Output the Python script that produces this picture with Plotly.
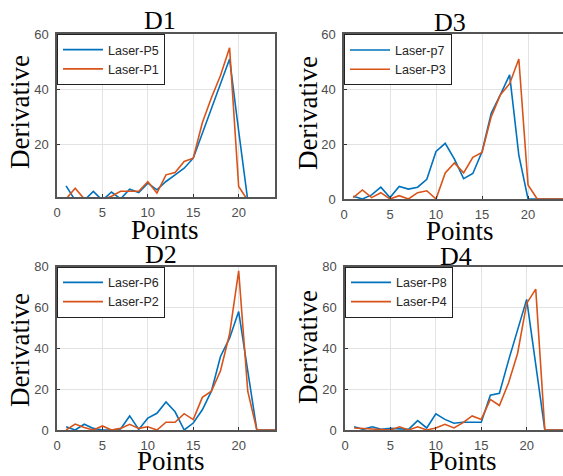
import plotly.graph_objects as go

# ---------------- data ----------------
d1_p5 = [5.2, 0, 0, 3.2, 0, 3, 0.5, 4, 2.8, 6.2, 3.8, 6.8, 9.2, 11.6, 15.2, 24, 33, 42, 51, 25, 0]
d1_p1 = [0.5, 4.4, 0.5, 0.5, 0, 1.5, 3.3, 3.3, 3.3, 6.7, 2.6, 9.2, 10, 14, 15.2, 28, 37, 45, 55, 5, 0]

d3_p7 = [1, 0, 1.5, 4.3, 0.5, 4.6, 3.6, 4.3, 7.2, 17.3, 20.3, 14.5, 7.4, 9.3, 17.2, 31.2, 38, 45.2, 16, 0, 0, 0, 0, 0]
d3_p3 = [0.5, 3.3, 0.5, 2.3, 0, 1.2, 0, 2.3, 3, 0, 9.5, 13.1, 9.5, 15.2, 17, 30, 38, 42, 51, 5.1, 0, 0, 0, 0]

d2_p6 = [1.6, 0, 2.8, 0.8, 0, 0, 0.5, 6.9, 0.3, 5.8, 8.2, 13.7, 8.9, 0, 3.4, 9.9, 19, 36, 45, 58, 29, 0, 0, 0]
d2_p2 = [0, 2.9, 1.2, 0, 2, 0, 0.8, 2.8, 0.8, 1.6, 0, 3.8, 3.8, 8, 5.1, 16, 19, 29, 47, 78, 19, 0, 0, 0]

d4_p8 = [1.6, 0.3, 1.6, 0.3, 0.8, 0.6, 0.3, 4.6, 1, 7.9, 5.2, 3.3, 3.8, 3.8, 3.8, 17, 18, 34, 49, 64, 32, 0, 0, 0]
d4_p4 = [1, 0.8, 0.3, 0.3, 0, 1.6, 0, 1.6, 0, 1, 2.8, 1, 3.6, 6.9, 5.2, 15, 12, 23, 37.5, 62, 69, 0, 0, 0]

panel_titles = ["D1", "D3", "D2", "D4"]
series_names = [("Laser-P5", "Laser-P1"), ("Laser-p7", "Laser-P3"),
                ("Laser-P6", "Laser-P2"), ("Laser-P8", "Laser-P4")]
series_data = [(d1_p5, d1_p1), (d3_p7, d3_p3), (d2_p6, d2_p2), (d4_p8, d4_p4)]
x_ticks = [0, 5, 10, 15, 20]
y_ticks = [[20, 40, 60], [0, 20, 40, 60], [0, 20, 40, 60, 80], [0, 20, 40, 60, 80]]
y_ranges = [[1.2, 60], [0, 60], [0, 80], [0, 80]]
x_ranges = [[0, 24], [0, 23.8], [0, 24], [0, 24]]

# ---------------- layout geometry (pixels) ----------------
W, H = 563, 476
# (left, right, top, bottom) of each plot area
boxes = [(57, 275, 34, 197), (344, 563, 34.3, 199), (57, 275, 266.7, 430), (345, 563, 266.7, 430)]
title_pos = [(160, 21), (450, 22), (161, 254), (456, 256)]
ylab_pos = [(20, 112), (308, 113), (20, 350), (308, 347)]
xlab_pos = [(165, 230), (460, 231), (171, 461), (463, 461)]

BLUE = "#0072BD"
ORANGE = "#D95319"

fig = go.Figure()
layout = dict(
    template="none",
    width=W, height=H, margin=dict(l=0, r=0, t=0, b=0, pad=0, autoexpand=False),
    paper_bgcolor="white", plot_bgcolor="white", showlegend=True,
)
annotations = []

def px(x):
    return x / W

def py(y):
    return 1 - y / H

for i in range(4):
    l, r, t, b = boxes[i]
    xa = "xaxis" if i == 0 else f"xaxis{i+1}"
    ya = "yaxis" if i == 0 else f"yaxis{i+1}"
    xr = "x" if i == 0 else f"x{i+1}"
    yr = "y" if i == 0 else f"y{i+1}"
    lg = "legend" if i == 0 else f"legend{i+1}"
    a, bvals = series_data[i]
    n1, n2 = series_names[i]
    fig.add_trace(go.Scatter(x=list(range(1, len(a) + 1)), y=a, mode="lines", name=n1,
                             line=dict(color=BLUE, width=1.6), xaxis=xr, yaxis=yr, legend=lg))
    fig.add_trace(go.Scatter(x=list(range(1, len(bvals) + 1)), y=bvals, mode="lines", name=n2,
                             line=dict(color=ORANGE, width=1.6), xaxis=xr, yaxis=yr, legend=lg))
    right_cut = (r >= 563)
    layout[xa] = dict(
        domain=[px(l), min(px(r), 1.0)], range=x_ranges[i], anchor=yr, automargin=False,
        tickvals=x_ticks, ticks="inside", ticklen=3, tickcolor="#333333",
        showgrid=True, gridcolor="#e3e3e3", gridwidth=1, zeroline=False,
        showline=True, linecolor="#555555", linewidth=1.5, mirror=True,
        tickfont=dict(family="Liberation Sans, Arial", size=13, color="#4d4d4d"),
        ticklabelstandoff=3,
    )
    layout[ya] = dict(
        domain=[py(b), py(t)], range=y_ranges[i], anchor=xr, automargin=False,
        tickvals=y_ticks[i], ticks="inside", ticklen=3, tickcolor="#333333",
        showgrid=True, gridcolor="#e3e3e3", gridwidth=1, zeroline=False,
        showline=True, linecolor="#555555", linewidth=1.5, mirror=(not right_cut),
        tickfont=dict(family="Liberation Sans, Arial", size=13, color="#4d4d4d"),
        ticklabelstandoff=4,
    )
    layout[lg] = dict(
        x=px(l), y=py(t), xanchor="left", yanchor="top", xref="paper", yref="paper",
        bgcolor="white", bordercolor="#222222", borderwidth=1,
        font=dict(family="Liberation Sans, Arial", size=12.5, color="#262626"),
        tracegroupgap=0, itemwidth=40,
    )
    tx, ty = title_pos[i]
    annotations.append(dict(text=panel_titles[i], x=px(tx), y=py(ty), xref="paper", yref="paper",
                            showarrow=False, xanchor="center", yanchor="middle",
                            font=dict(family="Liberation Serif, Times New Roman", size=26, color="black")))
    lx, ly = ylab_pos[i]
    annotations.append(dict(text="Derivative", x=px(lx), y=py(ly), xref="paper", yref="paper",
                            showarrow=False, xanchor="center", yanchor="middle", textangle=-90,
                            font=dict(family="Liberation Serif, Times New Roman", size=27, color="black")))
    bx, by = xlab_pos[i]
    annotations.append(dict(text="Points", x=px(bx), y=py(by), xref="paper", yref="paper",
                            showarrow=False, xanchor="center", yanchor="middle",
                            font=dict(family="Liberation Serif, Times New Roman", size=27, color="black")))

layout["annotations"] = annotations
fig.update_layout(**layout)
fig.write_html("out.html")
